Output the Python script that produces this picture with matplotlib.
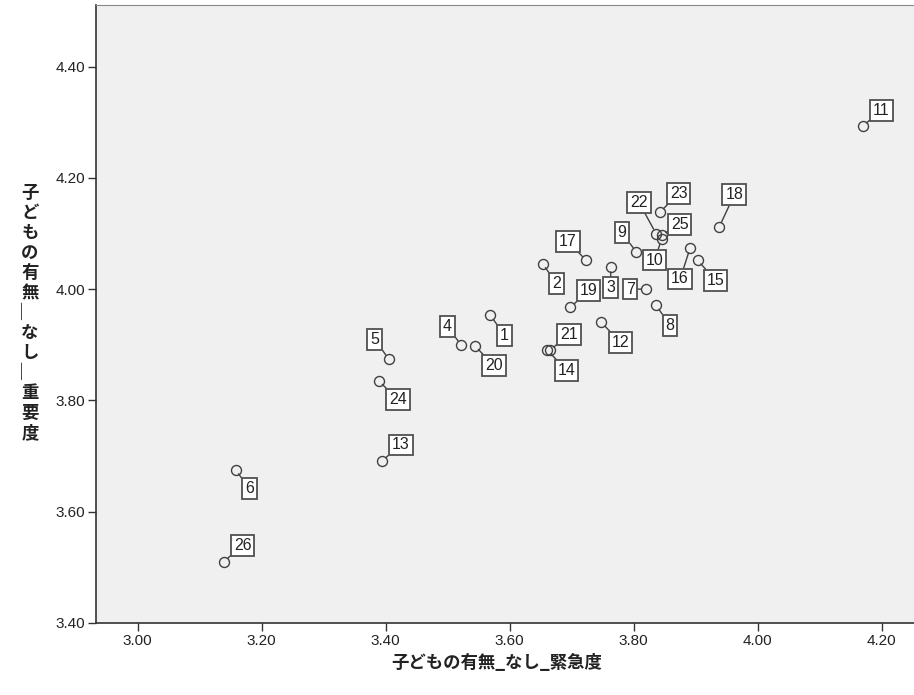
import matplotlib
matplotlib.use("Agg")
import matplotlib.pyplot as plt

# case numbers and the two scores
cases = [str(i) for i in range(1, 27)]
urgency = [3.569, 3.653, 3.763, 3.522, 3.405, 3.158, 3.820, 3.836, 3.804, 3.845,
           4.169, 3.748, 3.394, 3.661, 3.903, 3.891, 3.723, 3.938, 3.698, 3.544,
           3.665, 3.836, 3.842, 3.389, 3.845, 3.139]
importance = [3.953, 4.046, 4.040, 3.899, 3.874, 3.675, 4.000, 3.971, 4.067, 4.090,
              4.293, 3.940, 3.691, 3.890, 4.052, 4.074, 4.052, 4.112, 3.967, 3.898,
              3.890, 4.100, 4.138, 3.835, 4.097, 3.510]

x_ticks = [3.00, 3.20, 3.40, 3.60, 3.80, 4.00, 4.20]
y_ticks = [3.40, 3.60, 3.80, 4.00, 4.20, 4.40]
x_title = "子どもの有無_なし_緊急度"
y_title = "子どもの有無_なし_重要度"

# where each case label box sits relative to its point (pixels)
label_offsets = [(14, -20), (14, -20), (0, -21), (-14, 19), (-14, 20), (14, -19),
                 (-16, 0), (14, -20), (-14, 19), (-7, -21), (19, 16), (19, -20),
                 (19, 16), (19, -20), (18, -20), (-10, -31), (-18, 19), (15, 32),
                 (18, 17), (19, -20), (19, 16), (-17, 31), (19, 19), (19, -19),
                 (18, 11), (19, 16)]

W, H = 914, 695
fig = plt.figure(figsize=(W / 100, H / 100), dpi=100)
ax = fig.add_axes([96 / W, 1 - 622.7 / H, 1 - 96 / W, (622.7 - 5) / H])
ax.set_facecolor("#f0f0f0")

ax.plot(urgency, importance, "o", ms=7.2, mfc="none", mec="#404040", mew=1.0,
        zorder=3)

for lab, xv, yv, off in zip(cases, urgency, importance, label_offsets):
    ax.annotate(lab, (xv, yv), xytext=off, textcoords="offset pixels",
                ha="center", va="center", fontsize=11.5, family="Liberation Sans",
                color="#222222", zorder=4,
                bbox=dict(boxstyle="square,pad=0.18", fc="white", ec="#505050", lw=1.3),
                arrowprops=dict(arrowstyle="-", color="#404040", lw=1.0,
                                shrinkA=0, shrinkB=3.6))

ax.set_xlim(2.933, 4.252)
ax.set_ylim(3.40, 4.511)
ax.set_xticks(x_ticks)
ax.set_yticks(y_ticks)
ax.set_xticklabels([f"{v:.2f}" for v in x_ticks])
ax.set_yticklabels([f"{v:.2f}" for v in y_ticks])
ax.tick_params(direction="out", length=6, width=1, color="#333333",
               labelsize=11, labelcolor="#222222", pad=2)
for t in ax.get_xticklabels() + ax.get_yticklabels():
    t.set_family("Liberation Sans")

for side in ["left", "bottom"]:
    ax.spines[side].set_color("#333333")
    ax.spines[side].set_linewidth(1.2)
ax.spines["top"].set_color("#888888")
ax.spines["right"].set_visible(False)

cjk = ["Noto Sans CJK JP", "DejaVu Sans"]
fig.text(497 / W, 1 - 663 / H, x_title, ha="center", va="center", fontsize=12.5,
         family=cjk, weight="bold", color="#222222")

# vertical (tategaki) y title: one character per line, vertical low line for "_"
y_vertical = "\n".join("\ufe33" if ch == "_" else ch for ch in y_title)
fig.text(30 / W, 1 - 313 / H, y_vertical, ha="center", va="center", fontsize=12.5,
         family=cjk, weight="bold", color="#222222", linespacing=1.14,
         multialignment="center")

fig.savefig("out.png", dpi=100)
